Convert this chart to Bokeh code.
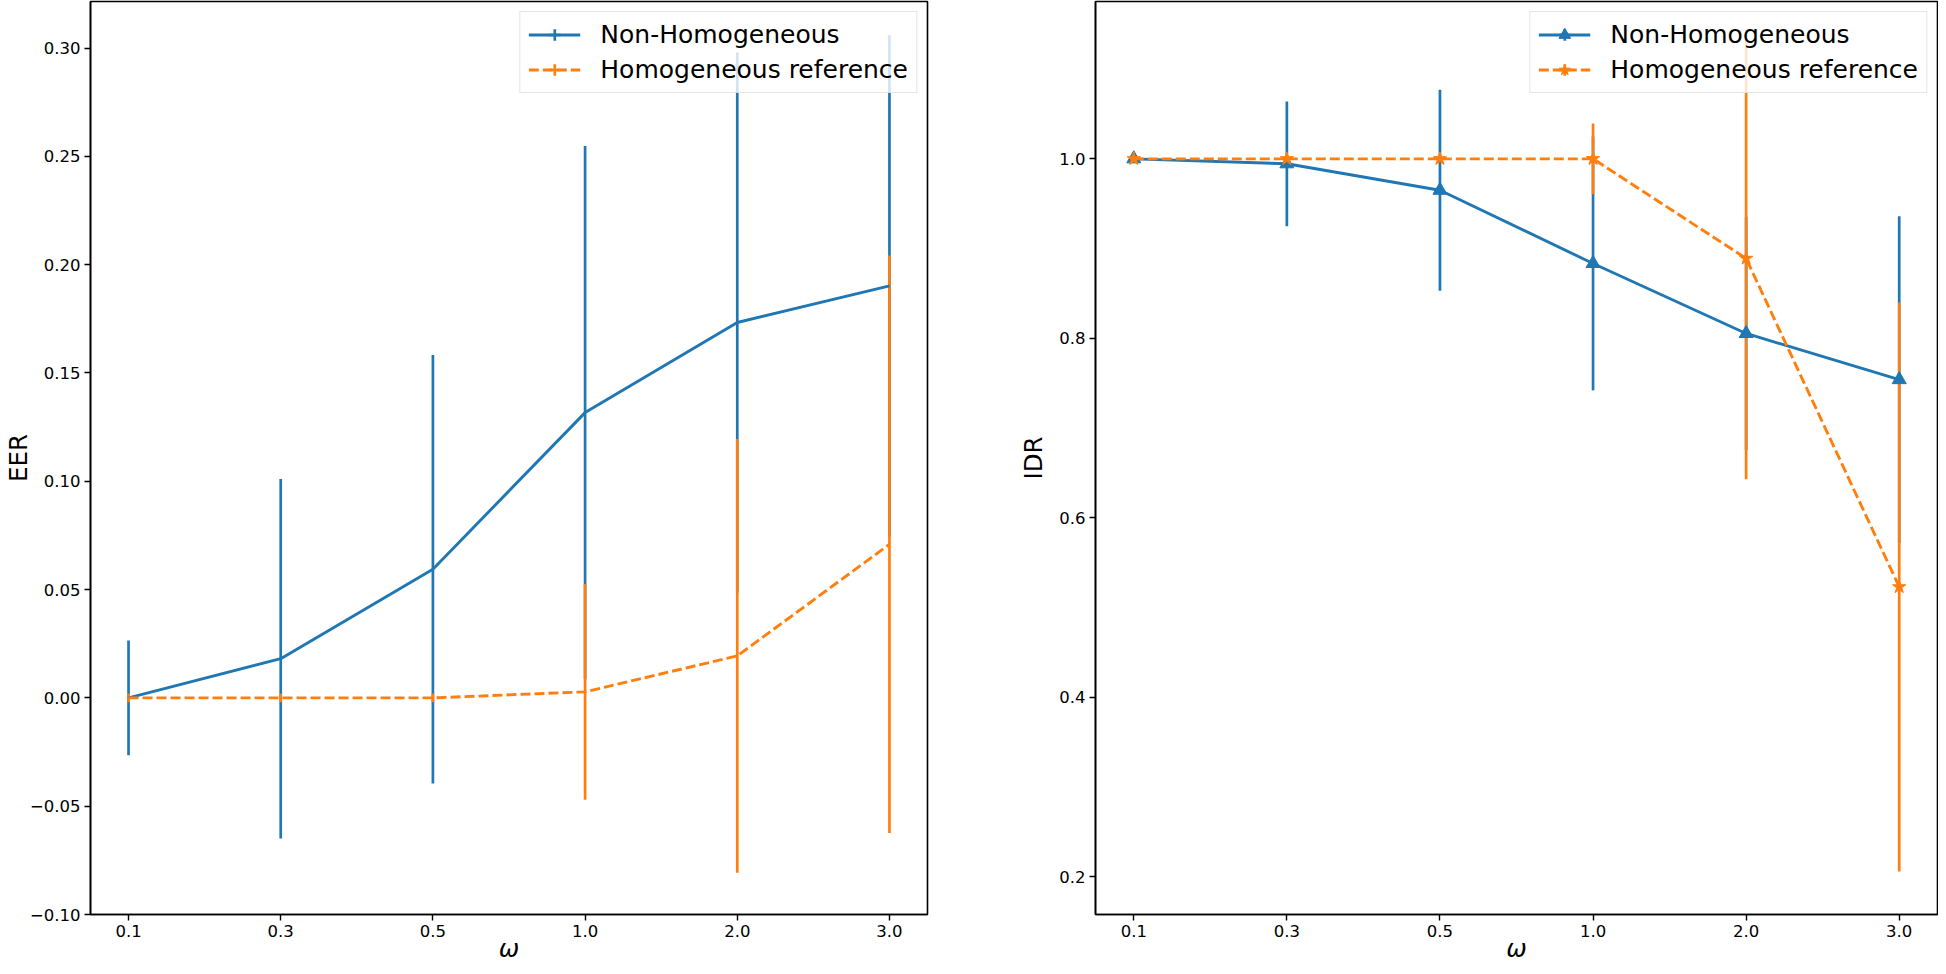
import numpy as np
from bokeh.plotting import figure
from bokeh.models import (ColumnDataSource, Range1d, FixedTicker, CustomJSTickFormatter,
                          Legend, LegendItem)
from bokeh.layouts import row
from bokeh.embed import file_html
from bokeh.resources import INLINE

# ---------------- data ----------------
omega_labels = ["0.1", "0.3", "0.5", "1.0", "2.0", "3.0"]
series_names = ["Non-Homogeneous", "Homogeneous reference"]

eer_nonhom = [0.0, 0.0181, 0.0594, 0.1317, 0.1733, 0.1902]
eer_nonhom_err = [0.0265, 0.0830, 0.0989, 0.1231, 0.1247, 0.1157]
eer_hom = [0.0, 0.0, 0.0, 0.0028, 0.0194, 0.0709]
eer_hom_err = [0.002, 0.002, 0.002, 0.0498, 0.1001, 0.1333]

idr_nonhom = [1.0, 0.9945, 0.965, 0.8834, 0.8054, 0.754]
idr_nonhom_err = [0.0, 0.0695, 0.112, 0.1414, 0.13, 0.182]
idr_hom = [1.0, 1.0, 1.0, 1.0, 0.889, 0.523]
idr_hom_err = [0.0, 0.0, 0.0, 0.0395, 0.246, 0.317]

eer_ticks = [-0.10, -0.05, 0.0, 0.05, 0.10, 0.15, 0.20, 0.25, 0.30]
idr_ticks = [0.2, 0.4, 0.6, 0.8, 1.0]

BLUE = "#1f77b4"
ORANGE = "#ff7f0e"
FONT = "DejaVu Sans"


def make_fig(width, mbl, mbr, y_start, y_end, ylabel, yticks, ydigits, ylabel_standoff):
    p = figure(width=width, height=966,
               x_range=Range1d(-0.25, 5.25), y_range=Range1d(y_start, y_end),
               output_backend="svg", toolbar_location=None,
               min_border_left=mbl, min_border_right=mbr,
               min_border_top=1, min_border_bottom=52)
    p.grid.visible = False
    p.background_fill_color = "white"
    p.border_fill_color = "white"
    p.outline_line_color = "black"
    p.outline_line_width = 1.6
    p.outline_line_alpha = 1.0
    for ax in (p.xaxis[0], p.yaxis[0]):
        ax.axis_line_color = "black"
        ax.axis_line_width = 1.6
        ax.major_tick_line_color = "black"
        ax.major_tick_line_width = 1.4
        ax.major_tick_out = 6
        ax.major_tick_in = 0
        ax.minor_tick_line_color = None
        ax.major_label_text_font = FONT
        ax.major_label_text_font_size = "16.5px"
        ax.major_label_text_color = "black"
        ax.major_label_standoff = 4
        ax.axis_label_text_font = FONT
        ax.axis_label_text_font_size = "24.5px"
        ax.axis_label_text_color = "black"

    xa = p.xaxis[0]
    xa.ticker = FixedTicker(ticks=list(range(len(omega_labels))))
    xa.formatter = CustomJSTickFormatter(args=dict(labels=omega_labels),
                                         code="const i = Math.round(tick); return (i >= 0 && i < labels.length) ? labels[i] : '';")
    xa.axis_label = "ω"
    xa.axis_label_text_font_style = "italic"
    xa.axis_label_standoff = -6

    ya = p.yaxis[0]
    ya.ticker = FixedTicker(ticks=yticks)
    ya.formatter = CustomJSTickFormatter(args=dict(d=ydigits),
                                         code="return tick.toFixed(d).replace('-', '\\u2212');")
    ya.axis_label = ylabel
    ya.axis_label_text_font_style = "normal"
    ya.axis_label_standoff = ylabel_standoff
    return p


def add_series(p, series, markers):
    x = np.arange(len(omega_labels))
    # error bars first (below the lines)
    for (means, errs, color, dash) in series:
        m = np.asarray(means, dtype=float)
        e = np.asarray(errs, dtype=float)
        src = ColumnDataSource(dict(x=x, lo=m - e, hi=m + e))
        p.segment(x0="x", y0="lo", x1="x", y1="hi", source=src,
                  line_color=color, line_width=2.7)
    items = []
    for k, (means, errs, color, dash) in enumerate(series):
        src = ColumnDataSource(dict(x=x, y=np.asarray(means, dtype=float)))
        ln = p.line("x", "y", source=src, line_color=color, line_width=2.9,
                    line_dash=dash)
        # legend-only glyph showing the vertical error bar
        dummy = p.scatter(x=[0], y=[np.nan], marker="cross", size=25,
                          line_color=color, line_width=2.7)
        rends = [ln, dummy]
        if markers is not None:
            mk = p.scatter("x", "y", source=src, marker=markers[k], size=14,
                           fill_color=color, line_color=color, line_width=1)
            rends.append(mk)
        items.append(LegendItem(label=series_names[k], renderers=rends))
    legend = Legend(items=items, location="top_right", margin=10,
                    padding=8, spacing=6, glyph_width=52, glyph_height=29,
                    label_height=29, label_standoff=20,
                    label_text_font=FONT, label_text_font_size="25px",
                    label_text_color="black",
                    border_line_color="#cccccc", border_line_width=1.2,
                    background_fill_color="white", background_fill_alpha=0.8)
    p.add_layout(legend)


# frame spans page y 9..922; scales match the reference pixel mapping
p1 = make_fig(987, 85, 60, -0.10, 0.3215, "EER", eer_ticks, 2, -6)
add_series(p1, [(eer_nonhom, eer_nonhom_err, BLUE, "solid"),
                (eer_hom, eer_hom_err, ORANGE, "10 4")], None)

p2 = make_fig(951, 108, 1, 0.158, 1.1753, "IDR", idr_ticks, 1, 8)
add_series(p2, [(idr_nonhom, idr_nonhom_err, BLUE, "solid"),
                (idr_hom, idr_hom_err, ORANGE, "10 4")], ["triangle", "star"])

layout = row(p1, p2)
html = file_html(layout, INLINE, title="EER and IDR vs omega")
with open("out.html", "w", encoding="utf-8") as f:
    f.write(html)
